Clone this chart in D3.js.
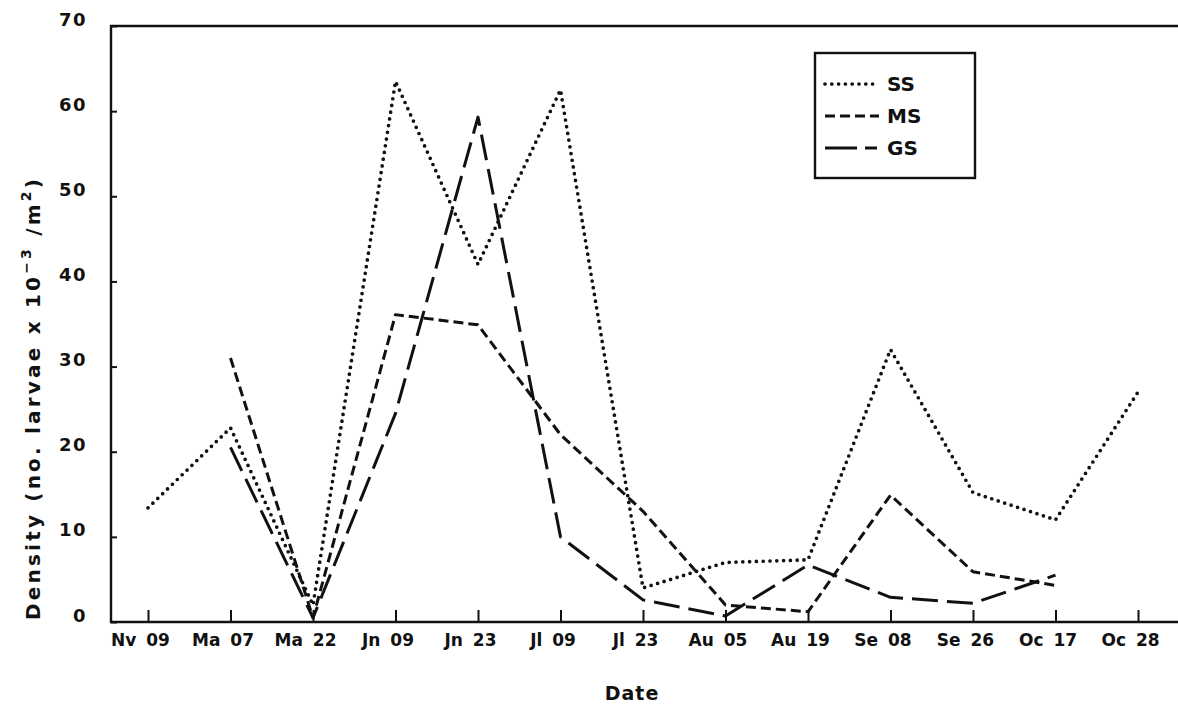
<!DOCTYPE html>
<html>
<head>
<meta charset="utf-8">
<script src="https://cdn.jsdelivr.net/npm/d3@7"></script>
<style>
  body { margin: 0; background: #fff; }
  text { font-family: "DejaVu Sans", sans-serif; font-weight: bold; fill: #111; }
</style>
</head>
<body>
<div id="viz"></div>
<script>
var dates = ["Nv 09", "Ma 07", "Ma 22", "Jn 09", "Jn 23", "Jl 09", "Jl 23",
             "Au 05", "Au 19", "Se 08", "Se 26", "Oc 17", "Oc 28"];
var ss = [13.4, 22.8, 2.0, 63.5, 42.0, 62.5, 4.0, 7.0, 7.3, 32.0, 15.2, 12.0, 27.0];
var ms = [null, 31.0, 0.5, 36.1, 34.9, 22.0, 13.0, 2.0, 1.2, 14.9, 5.9, 4.3, null];
var gs = [null, 20.5, 0.5, 24.5, 59.3, 10.0, 2.6, 0.7, 6.7, 2.9, 2.2, 5.5, null];
var yTicks = [0, 10, 20, 30, 40, 50, 60, 70];
var seriesNames = ["SS", "MS", "GS"];

var W = 1178, H = 710;
var padL = 111, padT = 26, padB = 622, padR = 1178;

var svg = d3.select("#viz").append("svg")
    .attr("width", W)
    .attr("height", H);

var x = d3.scalePoint().domain(dates).range([148, 1138]);
var y = d3.scaleLinear().domain([0, 70]).range([padB, padT]);

// frame lines (top, left, bottom)
svg.append("path")
    .attr("d", "M" + padR + "," + padT + "H" + padL + "V" + padB + "H" + padR)
    .attr("fill", "none")
    .attr("stroke", "#111")
    .attr("stroke-width", 2.4);

// y axis
var yAxis = svg.append("g")
    .attr("transform", "translate(" + padL + ",0)")
    .call(d3.axisLeft(y).tickValues(yTicks).tickSize(-6).tickPadding(24));
yAxis.select(".domain").remove();
yAxis.selectAll("line").attr("stroke", "#111").attr("stroke-width", 2);
yAxis.selectAll("text")
    .attr("font-size", 18)
    .attr("dy", "-0.05em")
    .attr("letter-spacing", 1.5)
    .attr("font-family", "DejaVu Sans, sans-serif")
    .style("font-weight", "bold");

// x axis
var xAxis = svg.append("g")
    .attr("transform", "translate(0," + padB + ")")
    .call(d3.axisBottom(x).tickSize(-12).tickPadding(12));
xAxis.select(".domain").remove();
xAxis.selectAll("line").attr("stroke", "#111").attr("stroke-width", 2);
xAxis.selectAll("text")
    .attr("x", -8)
    .attr("font-size", 17)
    .attr("font-family", "DejaVu Sans, sans-serif")
    .attr("word-spacing", 4)
    .style("font-weight", "bold");

// axis titles
svg.append("text")
    .attr("x", 632)
    .attr("y", 700)
    .attr("text-anchor", "middle")
    .attr("font-size", 19)
    .attr("letter-spacing", 1)
    .text("Date");

var yt = svg.append("text")
    .attr("transform", "translate(40,398)rotate(-90)")
    .attr("text-anchor", "middle")
    .attr("font-size", 20)
    .attr("letter-spacing", 3.2);
yt.append("tspan").text("Density (no. larvae x 10");
yt.append("tspan").attr("dy", -9).attr("font-size", 14).text("−3");
yt.append("tspan").attr("dy", 9).text(" /m");
yt.append("tspan").attr("dy", -9).attr("font-size", 14).text("2");
yt.append("tspan").attr("dy", 9).text(")");

// series
var styles = {
  SS: { data: ss, dash: "0,6.8", width: 3.7, cap: "round" },
  MS: { data: ms, dash: "10,5", width: 3, cap: "butt" },
  GS: { data: gs, dash: "26,9", width: 3, cap: "butt" }
};

var line = d3.line()
    .defined(function(d) { return d.v != null; })
    .x(function(d) { return x(d.date); })
    .y(function(d) { return y(d.v); });

seriesNames.forEach(function(name) {
  var s = styles[name];
  var pts = dates.map(function(dt, i) { return { date: dt, v: s.data[i] }; });
  svg.append("path")
      .datum(pts)
      .attr("d", line)
      .attr("fill", "none")
      .attr("stroke", "#111")
      .attr("stroke-width", s.width)
      .attr("stroke-linecap", s.cap)
      .attr("stroke-linejoin", "round")
      .attr("stroke-dasharray", s.dash);
});

// legend
var lg = svg.append("g").attr("transform", "translate(815,53)");
lg.append("rect")
    .attr("width", 160)
    .attr("height", 125)
    .attr("fill", "none")
    .attr("stroke", "#111")
    .attr("stroke-width", 2.4);

seriesNames.forEach(function(name, i) {
  var s = styles[name];
  var ly = 31 + i * 32;
  if (name === "GS") {
    lg.append("line")
        .attr("x1", 10).attr("x2", 42).attr("y1", ly).attr("y2", ly)
        .attr("stroke", "#111").attr("stroke-width", s.width);
    lg.append("line")
        .attr("x1", 50).attr("x2", 62).attr("y1", ly).attr("y2", ly)
        .attr("stroke", "#111").attr("stroke-width", s.width);
  } else {
    lg.append("line")
        .attr("x1", 10).attr("x2", 64).attr("y1", ly).attr("y2", ly)
        .attr("stroke", "#111")
        .attr("stroke-width", s.width)
        .attr("stroke-linecap", s.cap)
        .attr("stroke-dasharray", s.dash);
  }
  lg.append("text")
      .attr("x", 72)
      .attr("y", ly + 7)
      .attr("font-size", 20)
      .text(name);
});
</script>
</body>
</html>
